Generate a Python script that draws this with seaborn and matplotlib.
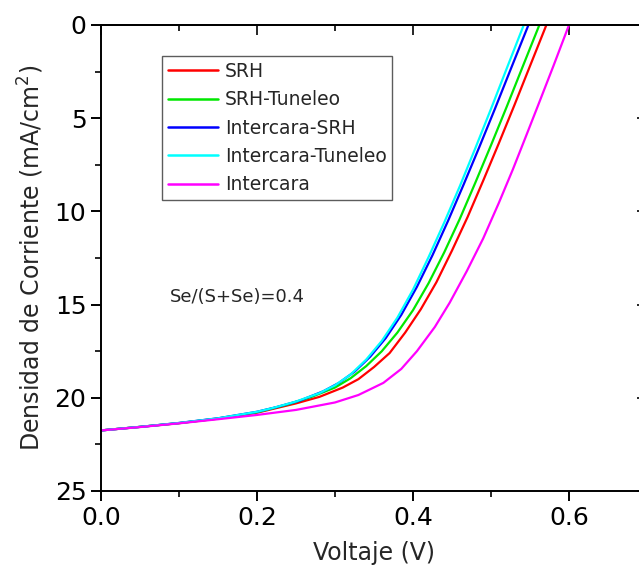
import matplotlib
matplotlib.use("Agg")
import matplotlib.pyplot as plt
import seaborn as sns
import pandas as pd
from matplotlib.ticker import MultipleLocator, FormatStrFormatter

series_names = ["SRH", "SRH-Tuneleo", "Intercara-SRH", "Intercara-Tuneleo", "Intercara"]
series_colors = ["#FF0000", "#00E800", "#0000FF", "#00FFFF", "#FF00FF"]

v_srh = [0, 0.05, 0.10, 0.15, 0.20, 0.25, 0.28, 0.31, 0.33, 0.35, 0.37, 0.39, 0.41, 0.43, 0.45, 0.47, 0.49, 0.51, 0.53, 0.55, 0.571]
j_srh = [21.75, 21.56, 21.36, 21.12, 20.8, 20.3, 19.95, 19.45, 19.0, 18.35, 17.6, 16.5, 15.25, 13.8, 12.1, 10.3, 8.35, 6.35, 4.3, 2.2, 0]

v_srh_tun = [0, 0.05, 0.10, 0.15, 0.20, 0.24, 0.27, 0.30, 0.32, 0.34, 0.36, 0.38, 0.40, 0.42, 0.44, 0.46, 0.48, 0.50, 0.52, 0.54, 0.562]
j_srh_tun = [21.75, 21.56, 21.36, 21.11, 20.78, 20.35, 19.95, 19.45, 18.95, 18.3, 17.5, 16.5, 15.3, 13.85, 12.2, 10.4, 8.45, 6.45, 4.4, 2.3, 0]

v_int_srh = [0, 0.05, 0.10, 0.15, 0.20, 0.225, 0.255, 0.285, 0.305, 0.325, 0.345, 0.365, 0.385, 0.405, 0.425, 0.445, 0.465, 0.485, 0.505, 0.525, 0.548]
j_int_srh = [21.75, 21.56, 21.35, 21.1, 20.75, 20.5, 20.15, 19.65, 19.2, 18.6, 17.8, 16.8, 15.55, 14.05, 12.35, 10.5, 8.55, 6.55, 4.5, 2.4, 0]

v_int_tun = [0, 0.05, 0.10, 0.15, 0.20, 0.22, 0.25, 0.28, 0.30, 0.32, 0.34, 0.36, 0.38, 0.40, 0.42, 0.44, 0.46, 0.48, 0.50, 0.52, 0.542]
j_int_tun = [21.75, 21.56, 21.35, 21.1, 20.75, 20.55, 20.2, 19.75, 19.33, 18.75, 17.95, 16.95, 15.7, 14.2, 12.45, 10.6, 8.65, 6.6, 4.5, 2.35, 0]

v_int = [0, 0.05, 0.10, 0.15, 0.20, 0.25, 0.30, 0.33, 0.362, 0.385, 0.405, 0.428, 0.447, 0.469, 0.49, 0.51, 0.528, 0.545, 0.56, 0.58, 0.60]
j_int = [21.75, 21.57, 21.37, 21.15, 20.92, 20.65, 20.25, 19.85, 19.2, 18.45, 17.5, 16.2, 14.9, 13.2, 11.45, 9.55, 7.75, 5.95, 4.35, 2.2, 0]

x_ticks = [0.0, 0.2, 0.4, 0.6]
y_ticks = [0, 5, 10, 15, 20, 25]

all_v = [v_srh, v_srh_tun, v_int_srh, v_int_tun, v_int]
all_j = [j_srh, j_srh_tun, j_int_srh, j_int_tun, j_int]

rows = []
for name, vs, js in zip(series_names, all_v, all_j):
    for v, j in zip(vs, js):
        rows.append({"serie": name, "V": v, "J": j})
df = pd.DataFrame(rows)

sns.set_style("ticks")
plt.rcParams['font.family'] = ['DejaVu Sans']

fig = plt.figure(figsize=(6.39, 5.69), dpi=100)
ax = fig.add_axes([101/639, 1 - 491/569, (647 - 101)/639, (491 - 25)/569])

sns.lineplot(data=df, x="V", y="J", hue="serie", hue_order=series_names,
             palette=series_colors, sort=False, estimator=None, units="serie",
             linewidth=1.6, ax=ax, legend=True)

ax.set_xlim(0, 0.7)
ax.set_ylim(25, 0)
ax.set_xticks(x_ticks)
ax.set_yticks(y_ticks)
ax.xaxis.set_minor_locator(MultipleLocator(0.1))
ax.yaxis.set_minor_locator(MultipleLocator(2.5))
ax.xaxis.set_major_formatter(FormatStrFormatter('%.1f'))
ax.tick_params(which='major', direction='out', length=7, width=1.4, labelsize=18, colors='black')
ax.tick_params(which='minor', direction='out', length=4, width=1.4)
for s in ax.spines.values():
    s.set_linewidth(1.4)
    s.set_color('black')

# top and right ticks pointing inward
top = ax.secondary_xaxis('top')
top.set_xticks(x_ticks)
top.xaxis.set_minor_locator(MultipleLocator(0.1))
top.tick_params(which='major', direction='in', length=7, width=1.4, labeltop=False)
top.tick_params(which='minor', direction='in', length=4, width=1.4)
top.spines['top'].set_linewidth(1.4)
right = ax.secondary_yaxis('right')
right.set_yticks(y_ticks)
right.yaxis.set_minor_locator(MultipleLocator(2.5))
right.tick_params(which='major', direction='in', length=7, width=1.4, labelright=False)
right.tick_params(which='minor', direction='in', length=4, width=1.4)
right.spines['right'].set_linewidth(1.4)

ax.set_xlabel("Voltaje (V)", fontsize=17, labelpad=8)
ax.set_ylabel("Densidad de Corriente (mA/cm$^2$)", fontsize=17, labelpad=6)

ax.text(0.088, 14.6, "Se/(S+Se)=0.4", fontsize=13, va='center', ha='left')

leg = ax.legend(loc='upper left', bbox_to_anchor=(0.112, 0.933), borderaxespad=0,
                fontsize=13.5, handlelength=2.7, handletextpad=0.35, labelspacing=0.5,
                frameon=True, fancybox=False, borderpad=0.3)
leg.get_frame().set_edgecolor('#333333')
leg.get_frame().set_linewidth(1.0)
for line in leg.get_lines():
    line.set_linewidth(1.8)

fig.savefig("out.png", dpi=100)
